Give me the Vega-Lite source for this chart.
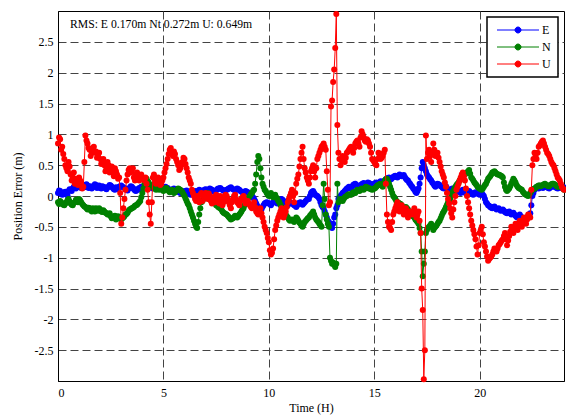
{
  "$schema": "https://vega.github.io/schema/vega-lite/v6.json",
  "width": 506,
  "height": 370,
  "autosize": "none",
  "padding": {"left": 58, "top": 11, "right": 2, "bottom": 36},
  "background": "#ffffff",
  "config": {
    "view": {"stroke": "#000000", "strokeWidth": 1},
    "axis": {
      "labelFont": "Liberation Serif", "labelFontSize": 12, "labelColor": "#000000",
      "titleFont": "Liberation Serif", "titleFontSize": 12, "titleFontWeight": "normal", "titleColor": "#000000",
      "domainColor": "#000000", "domainWidth": 1,
      "ticks": false,
      "gridColor": "#444444", "gridDash": [8, 4], "gridWidth": 1, "gridOpacity": 1
    }
  },
  "datasets": {
    "gps": [
      {"t":0.0,"E":0.05,"N":-0.1,"U":0.85},{"t":0.1,"E":0.08,"N":-0.08,"U":0.92},{"t":0.2,"E":0.02,"N":-0.12,"U":0.8},{"t":0.3,"E":0.06,"N":-0.15,"U":0.6},{"t":0.4,"E":0.03,"N":-0.1,"U":0.45},
      {"t":0.5,"E":0.08,"N":-0.05,"U":0.55},{"t":0.6,"E":0.1,"N":-0.12,"U":0.35},{"t":0.7,"E":0.12,"N":-0.15,"U":0.3},{"t":0.8,"E":0.15,"N":-0.1,"U":0.2},{"t":0.9,"E":0.14,"N":-0.08,"U":0.25},
      {"t":1.0,"E":0.16,"N":-0.05,"U":0.3},{"t":1.1,"E":0.13,"N":-0.1,"U":0.2},{"t":1.2,"E":0.18,"N":-0.15,"U":0.15},{"t":1.3,"E":0.15,"N":-0.18,"U":0.98},{"t":1.4,"E":0.17,"N":-0.22,"U":0.85},
      {"t":1.5,"E":0.14,"N":-0.2,"U":0.75},{"t":1.6,"E":0.12,"N":-0.25,"U":0.7},{"t":1.7,"E":0.16,"N":-0.22,"U":0.8},{"t":1.8,"E":0.18,"N":-0.2,"U":0.72},{"t":1.9,"E":0.15,"N":-0.24,"U":0.65},
      {"t":2.0,"E":0.13,"N":-0.22,"U":0.6},{"t":2.1,"E":0.16,"N":-0.26,"U":0.55},{"t":2.2,"E":0.14,"N":-0.25,"U":0.5},{"t":2.3,"E":0.11,"N":-0.28,"U":0.45},{"t":2.4,"E":0.15,"N":-0.3,"U":0.5},
      {"t":2.5,"E":0.17,"N":-0.33,"U":0.42},{"t":2.6,"E":0.13,"N":-0.35,"U":0.38},{"t":2.7,"E":0.1,"N":-0.32,"U":0.45},{"t":2.8,"E":0.12,"N":-0.36,"U":0.35},{"t":2.9,"E":0.15,"N":-0.34,"U":0.3},
      {"t":3.0,"E":0.17,"N":-0.38,"U":-0.45},{"t":3.1,"E":0.14,"N":-0.35,"U":-0.2},{"t":3.2,"E":0.12,"N":-0.3,"U":0.1},{"t":3.3,"E":0.09,"N":-0.27,"U":0.35},{"t":3.4,"E":0.13,"N":-0.22,"U":0.45},
      {"t":3.5,"E":0.15,"N":-0.2,"U":0.4},{"t":3.6,"E":0.11,"N":-0.18,"U":0.3},{"t":3.7,"E":0.08,"N":-0.15,"U":0.35},{"t":3.8,"E":0.1,"N":-0.12,"U":0.28},{"t":3.9,"E":0.12,"N":-0.08,"U":0.32},
      {"t":4.0,"E":0.14,"N":0.05,"U":0.3},{"t":4.1,"E":0.16,"N":0.2,"U":0.25},{"t":4.2,"E":0.15,"N":0.28,"U":0.2},{"t":4.3,"E":0.18,"N":0.22,"U":-0.1},{"t":4.4,"E":0.15,"N":0.15,"U":-0.45},
      {"t":4.5,"E":0.12,"N":0.18,"U":0.3},{"t":4.6,"E":0.15,"N":0.12,"U":0.25},{"t":4.7,"E":0.17,"N":0.15,"U":0.22},{"t":4.8,"E":0.14,"N":0.1,"U":0.28},{"t":4.9,"E":0.11,"N":0.13,"U":0.2},
      {"t":5.0,"E":0.12,"N":0.08,"U":0.3},{"t":5.1,"E":0.15,"N":0.12,"U":0.45},{"t":5.2,"E":0.13,"N":0.1,"U":0.6},{"t":5.3,"E":0.1,"N":0.06,"U":0.75},{"t":5.4,"E":0.08,"N":0.1,"U":0.7},
      {"t":5.5,"E":0.12,"N":0.05,"U":0.72},{"t":5.6,"E":0.1,"N":0.08,"U":0.6},{"t":5.7,"E":0.07,"N":0.12,"U":0.5},{"t":5.8,"E":0.05,"N":0.1,"U":0.45},{"t":5.9,"E":0.08,"N":0.06,"U":0.55},
      {"t":6.0,"E":0.06,"N":0.0,"U":0.6},{"t":6.1,"E":0.09,"N":-0.08,"U":0.45},{"t":6.2,"E":0.04,"N":-0.15,"U":0.3},{"t":6.3,"E":0.02,"N":-0.25,"U":0.2},{"t":6.4,"E":0.05,"N":-0.35,"U":0.05},
      {"t":6.5,"E":0.08,"N":-0.45,"U":-0.05},{"t":6.6,"E":0.06,"N":-0.52,"U":0.0},{"t":6.7,"E":0.1,"N":-0.3,"U":-0.1},{"t":6.8,"E":0.07,"N":-0.1,"U":0.05},{"t":6.9,"E":0.09,"N":-0.05,"U":0.0},
      {"t":7.0,"E":0.11,"N":0.0,"U":0.05},{"t":7.1,"E":0.08,"N":0.05,"U":-0.05},{"t":7.2,"E":0.12,"N":-0.02,"U":0.0},{"t":7.3,"E":0.1,"N":-0.06,"U":-0.12},{"t":7.4,"E":0.07,"N":-0.1,"U":-0.05},
      {"t":7.5,"E":0.09,"N":-0.15,"U":0.02},{"t":7.6,"E":0.12,"N":-0.18,"U":-0.08},{"t":7.7,"E":0.13,"N":-0.2,"U":0.0},{"t":7.8,"E":0.1,"N":-0.25,"U":-0.15},{"t":7.9,"E":0.08,"N":-0.28,"U":-0.05},
      {"t":8.0,"E":0.1,"N":-0.3,"U":0.0},{"t":8.1,"E":0.12,"N":-0.34,"U":-0.1},{"t":8.2,"E":0.14,"N":-0.38,"U":-0.2},{"t":8.3,"E":0.11,"N":-0.36,"U":-0.05},{"t":8.4,"E":0.09,"N":-0.32,"U":0.02},
      {"t":8.5,"E":0.12,"N":-0.35,"U":-0.1},{"t":8.6,"E":0.1,"N":-0.3,"U":-0.15},{"t":8.7,"E":0.07,"N":-0.25,"U":-0.05},{"t":8.8,"E":0.05,"N":-0.2,"U":0.0},{"t":8.9,"E":0.08,"N":-0.1,"U":-0.12},
      {"t":9.0,"E":0.06,"N":-0.05,"U":-0.08},{"t":9.1,"E":0.02,"N":0.0,"U":-0.15},{"t":9.2,"E":0.0,"N":0.05,"U":-0.2},{"t":9.3,"E":-0.05,"N":0.1,"U":-0.1},{"t":9.4,"E":-0.12,"N":0.35,"U":-0.25},
      {"t":9.5,"E":-0.2,"N":0.65,"U":-0.3},{"t":9.6,"E":-0.25,"N":0.45,"U":-0.2},{"t":9.7,"E":-0.18,"N":0.2,"U":-0.35},{"t":9.8,"E":-0.12,"N":0.1,"U":-0.5},{"t":9.9,"E":-0.1,"N":0.05,"U":-0.6},
      {"t":10.0,"E":-0.12,"N":0.0,"U":-0.75},{"t":10.1,"E":-0.15,"N":0.05,"U":-0.95},{"t":10.2,"E":-0.1,"N":-0.02,"U":-0.85},{"t":10.3,"E":-0.08,"N":0.02,"U":-0.55},{"t":10.4,"E":-0.12,"N":-0.05,"U":-0.4},
      {"t":10.5,"E":-0.1,"N":-0.1,"U":-0.3},{"t":10.6,"E":-0.05,"N":-0.18,"U":-0.2},{"t":10.7,"E":-0.08,"N":-0.25,"U":-0.35},{"t":10.8,"E":-0.12,"N":-0.3,"U":-0.25},{"t":10.9,"E":-0.15,"N":-0.35,"U":-0.1},
      {"t":11.0,"E":-0.1,"N":-0.4,"U":0.0},{"t":11.1,"E":-0.12,"N":-0.38,"U":0.1},{"t":11.2,"E":-0.15,"N":-0.42,"U":-0.1},{"t":11.3,"E":-0.18,"N":-0.35,"U":0.2},{"t":11.4,"E":-0.12,"N":-0.4,"U":0.35},
      {"t":11.5,"E":-0.1,"N":-0.45,"U":0.6},{"t":11.6,"E":-0.14,"N":-0.5,"U":0.8},{"t":11.7,"E":-0.1,"N":-0.42,"U":0.45},{"t":11.8,"E":-0.06,"N":-0.38,"U":0.3},{"t":11.9,"E":-0.05,"N":-0.35,"U":0.2},
      {"t":12.0,"E":0.05,"N":-0.3,"U":0.4},{"t":12.1,"E":0.08,"N":-0.25,"U":0.5},{"t":12.2,"E":0.02,"N":-0.35,"U":0.3},{"t":12.3,"E":0.0,"N":-0.4,"U":0.6},{"t":12.4,"E":-0.05,"N":-0.45,"U":0.7},
      {"t":12.5,"E":-0.15,"N":-0.5,"U":0.8},{"t":12.6,"E":-0.2,"N":0.2,"U":0.85},{"t":12.7,"E":-0.3,"N":-0.3,"U":0.75},{"t":12.8,"E":-0.4,"N":-0.45,"U":0.1},{"t":12.85,"E":-0.42,"N":-0.5,"U":-0.15},
      {"t":12.9,"E":-0.45,"N":-1.0,"U":-0.1},{"t":12.95,"E":-0.5,"N":-1.05,"U":1.45},{"t":13.0,"E":-0.52,"N":-1.1,"U":1.55},{"t":13.05,"E":-0.45,"N":-1.08,"U":1.85},{"t":13.1,"E":-0.35,"N":-1.12,"U":2.05},
      {"t":13.15,"E":-0.3,"N":-1.15,"U":2.4},{"t":13.2,"E":-0.2,"N":-1.1,"U":2.95},{"t":13.25,"E":-0.15,"N":0.2,"U":1.15},{"t":13.3,"E":-0.05,"N":-0.1,"U":0.7},{"t":13.4,"E":0.0,"N":-0.05,"U":0.5},
      {"t":13.5,"E":0.05,"N":-0.08,"U":0.65},{"t":13.6,"E":0.08,"N":-0.02,"U":0.55},{"t":13.7,"E":0.12,"N":0.0,"U":0.7},{"t":13.8,"E":0.15,"N":0.03,"U":0.75},{"t":13.9,"E":0.12,"N":0.02,"U":0.8},
      {"t":14.0,"E":0.18,"N":0.06,"U":0.7},{"t":14.1,"E":0.2,"N":0.05,"U":0.85},{"t":14.2,"E":0.17,"N":0.1,"U":0.9},{"t":14.3,"E":0.15,"N":0.08,"U":0.8},{"t":14.4,"E":0.19,"N":0.12,"U":1.05},
      {"t":14.5,"E":0.21,"N":0.1,"U":0.95},{"t":14.6,"E":0.18,"N":0.15,"U":0.88},{"t":14.7,"E":0.22,"N":0.13,"U":0.9},{"t":14.8,"E":0.2,"N":0.12,"U":0.8},{"t":14.9,"E":0.17,"N":0.1,"U":0.6},
      {"t":15.0,"E":0.2,"N":0.12,"U":0.55},{"t":15.1,"E":0.22,"N":0.15,"U":0.5},{"t":15.2,"E":0.19,"N":0.18,"U":0.7},{"t":15.3,"E":0.24,"N":0.2,"U":0.6},{"t":15.4,"E":0.21,"N":0.15,"U":0.65},
      {"t":15.5,"E":0.25,"N":0.25,"U":0.75},{"t":15.6,"E":0.28,"N":0.28,"U":-0.3},{"t":15.7,"E":0.3,"N":0.2,"U":-0.5},{"t":15.8,"E":0.27,"N":0.1,"U":-0.55},{"t":15.9,"E":0.31,"N":0.0,"U":-0.3},
      {"t":16.0,"E":0.33,"N":-0.05,"U":-0.2},{"t":16.1,"E":0.3,"N":-0.1,"U":-0.1},{"t":16.2,"E":0.35,"N":-0.12,"U":-0.25},{"t":16.3,"E":0.32,"N":-0.15,"U":-0.15},{"t":16.4,"E":0.34,"N":-0.2,"U":-0.3},
      {"t":16.5,"E":0.28,"N":-0.18,"U":-0.2},{"t":16.6,"E":0.25,"N":-0.22,"U":-0.35},{"t":16.7,"E":0.2,"N":-0.3,"U":-0.25},{"t":16.8,"E":0.15,"N":-0.32,"U":-0.3},{"t":16.9,"E":0.1,"N":-0.35,"U":-0.2},
      {"t":17.0,"E":0.05,"N":-0.4,"U":-0.35},{"t":17.1,"E":0.12,"N":-0.45,"U":-0.25},{"t":17.2,"E":0.3,"N":-0.6,"U":-0.6},{"t":17.25,"E":0.45,"N":-0.9,"U":-1.5},{"t":17.3,"E":0.55,"N":-1.3,"U":-1.85},
      {"t":17.35,"E":0.5,"N":-1.1,"U":-2.97},{"t":17.4,"E":0.45,"N":-0.9,"U":-2.5},{"t":17.45,"E":0.4,"N":-0.6,"U":0.98},{"t":17.5,"E":0.35,"N":-0.55,"U":0.6},{"t":17.6,"E":0.3,"N":-0.5,"U":0.75},
      {"t":17.7,"E":0.25,"N":-0.45,"U":0.55},{"t":17.8,"E":0.2,"N":-0.55,"U":0.85},{"t":17.9,"E":0.15,"N":-0.5,"U":0.65},
      {"t":18.0,"E":0.2,"N":-0.45,"U":0.7},{"t":18.1,"E":0.18,"N":-0.4,"U":0.55},{"t":18.2,"E":0.15,"N":-0.32,"U":0.4},{"t":18.3,"E":0.12,"N":-0.25,"U":0.3},{"t":18.4,"E":0.16,"N":-0.18,"U":0.15},
      {"t":18.5,"E":0.1,"N":-0.1,"U":-0.05},{"t":18.6,"E":0.08,"N":-0.05,"U":-0.2},{"t":18.7,"E":0.12,"N":0.05,"U":-0.35},{"t":18.8,"E":0.05,"N":0.12,"U":-0.1},{"t":18.9,"E":0.1,"N":0.18,"U":0.1},
      {"t":19.0,"E":0.08,"N":0.22,"U":0.2},{"t":19.1,"E":0.05,"N":0.28,"U":0.3},{"t":19.2,"E":0.1,"N":0.32,"U":0.38},{"t":19.3,"E":0.06,"N":0.35,"U":0.25},{"t":19.4,"E":0.03,"N":0.38,"U":0.0},
      {"t":19.5,"E":0.08,"N":0.42,"U":-0.2},{"t":19.6,"E":0.05,"N":0.3,"U":-0.4},{"t":19.7,"E":0.02,"N":0.25,"U":-0.55},{"t":19.8,"E":0.06,"N":0.2,"U":-0.7},{"t":19.9,"E":0.04,"N":0.15,"U":-0.95},
      {"t":20.0,"E":0.02,"N":0.12,"U":-0.6},{"t":20.1,"E":0.05,"N":0.1,"U":-0.5},{"t":20.2,"E":0.0,"N":0.15,"U":-0.75},{"t":20.3,"E":-0.1,"N":0.2,"U":-0.9},{"t":20.4,"E":-0.15,"N":0.28,"U":-1.05},
      {"t":20.5,"E":-0.18,"N":0.32,"U":-1.0},{"t":20.6,"E":-0.2,"N":0.38,"U":-0.95},{"t":20.7,"E":-0.17,"N":0.4,"U":-0.85},{"t":20.8,"E":-0.22,"N":0.36,"U":-0.9},{"t":20.9,"E":-0.2,"N":0.35,"U":-0.8},
      {"t":21.0,"E":-0.24,"N":0.33,"U":-0.75},{"t":21.1,"E":-0.22,"N":0.3,"U":-0.7},{"t":21.2,"E":-0.26,"N":0.15,"U":-0.6},{"t":21.3,"E":-0.28,"N":0.08,"U":-0.8},{"t":21.4,"E":-0.25,"N":0.12,"U":-0.65},
      {"t":21.5,"E":-0.3,"N":0.2,"U":-0.5},{"t":21.6,"E":-0.27,"N":0.28,"U":-0.6},{"t":21.7,"E":-0.32,"N":0.22,"U":-0.45},{"t":21.8,"E":-0.35,"N":0.15,"U":-0.55},{"t":21.9,"E":-0.3,"N":0.12,"U":-0.4},
      {"t":22.0,"E":-0.36,"N":0.1,"U":-0.5},{"t":22.1,"E":-0.4,"N":0.05,"U":-0.35},{"t":22.2,"E":-0.38,"N":0.02,"U":-0.45},{"t":22.3,"E":-0.33,"N":0.0,"U":-0.3},{"t":22.4,"E":-0.28,"N":0.05,"U":-0.35},
      {"t":22.5,"E":0.0,"N":0.1,"U":0.5},{"t":22.6,"E":0.1,"N":0.12,"U":0.7},{"t":22.7,"E":0.14,"N":0.15,"U":0.6},{"t":22.8,"E":0.12,"N":0.17,"U":0.8},{"t":22.9,"E":0.15,"N":0.16,"U":0.85},
      {"t":23.0,"E":0.13,"N":0.18,"U":0.9},{"t":23.1,"E":0.16,"N":0.2,"U":0.8},{"t":23.2,"E":0.14,"N":0.17,"U":0.7},{"t":23.3,"E":0.12,"N":0.16,"U":0.65},{"t":23.4,"E":0.15,"N":0.19,"U":0.55},
      {"t":23.5,"E":0.17,"N":0.2,"U":0.5},{"t":23.6,"E":0.14,"N":0.18,"U":0.4},{"t":23.7,"E":0.12,"N":0.15,"U":0.3},{"t":23.8,"E":0.15,"N":0.16,"U":0.25},{"t":23.9,"E":0.13,"N":0.14,"U":0.15},
      {"t":24.0,"E":0.14,"N":0.1,"U":0.1},
      {"t":0.05,"E":0.09,"N":-0.13,"U":0.95},{"t":0.15,"E":0.04,"N":-0.1,"U":0.75},{"t":0.25,"E":0.03,"N":-0.14,"U":0.68},{"t":0.35,"E":0.07,"N":-0.12,"U":0.5},{"t":0.45,"E":0.01,"N":-0.07,"U":0.4},
      {"t":0.55,"E":0.11,"N":-0.09,"U":0.48},{"t":0.65,"E":0.08,"N":-0.14,"U":0.25},{"t":0.75,"E":0.15,"N":-0.11,"U":0.38},{"t":0.85,"E":0.12,"N":-0.06,"U":0.28},{"t":0.95,"E":0.17,"N":-0.1,"U":0.18},
      {"t":1.05,"E":0.14,"N":-0.07,"U":0.25},{"t":1.15,"E":0.17,"N":-0.13,"U":0.12},{"t":1.25,"E":0.14,"N":-0.17,"U":0.55},{"t":1.35,"E":0.19,"N":-0.2,"U":0.9},{"t":1.45,"E":0.13,"N":-0.19,"U":0.78},
      {"t":1.55,"E":0.16,"N":-0.23,"U":0.65},{"t":1.65,"E":0.14,"N":-0.2,"U":0.78},{"t":1.75,"E":0.19,"N":-0.25,"U":0.7},{"t":1.85,"E":0.13,"N":-0.21,"U":0.62},{"t":1.95,"E":0.17,"N":-0.2,"U":0.7},
      {"t":2.05,"E":0.12,"N":-0.25,"U":0.52},{"t":2.15,"E":0.15,"N":-0.23,"U":0.6},{"t":2.25,"E":0.12,"N":-0.27,"U":0.4},{"t":2.35,"E":0.14,"N":-0.3,"U":0.55},{"t":2.45,"E":0.18,"N":-0.28,"U":0.38},
      {"t":2.55,"E":0.15,"N":-0.36,"U":0.48},{"t":2.65,"E":0.11,"N":-0.33,"U":0.32},{"t":2.75,"E":0.14,"N":-0.38,"U":0.4},{"t":2.85,"E":0.11,"N":-0.33,"U":0.28},{"t":2.95,"E":0.16,"N":-0.37,"U":0.05},
      {"t":3.05,"E":0.15,"N":-0.36,"U":-0.35},{"t":3.15,"E":0.13,"N":-0.33,"U":-0.05},{"t":3.25,"E":0.1,"N":-0.29,"U":0.25},{"t":3.35,"E":0.12,"N":-0.24,"U":0.42},{"t":3.45,"E":0.16,"N":-0.21,"U":0.38},
      {"t":3.55,"E":0.13,"N":-0.19,"U":0.45},{"t":3.65,"E":0.09,"N":-0.16,"U":0.25},{"t":3.75,"E":0.11,"N":-0.14,"U":0.38},{"t":3.85,"E":0.13,"N":-0.1,"U":0.25},{"t":3.95,"E":0.15,"N":-0.02,"U":0.35},
      {"t":4.05,"E":0.13,"N":0.12,"U":0.28},{"t":4.15,"E":0.17,"N":0.25,"U":0.3},{"t":4.25,"E":0.16,"N":0.24,"U":0.1},{"t":4.35,"E":0.16,"N":0.18,"U":-0.3},{"t":4.45,"E":0.13,"N":0.16,"U":-0.1},
      {"t":4.55,"E":0.14,"N":0.15,"U":0.35},{"t":4.65,"E":0.16,"N":0.1,"U":0.2},{"t":4.75,"E":0.15,"N":0.14,"U":0.3},{"t":4.85,"E":0.12,"N":0.12,"U":0.18},{"t":4.95,"E":0.14,"N":0.1,"U":0.25},
      {"t":5.05,"E":0.13,"N":0.1,"U":0.38},{"t":5.15,"E":0.12,"N":0.13,"U":0.52},{"t":5.25,"E":0.11,"N":0.08,"U":0.68},{"t":5.35,"E":0.09,"N":0.08,"U":0.78},{"t":5.45,"E":0.11,"N":0.07,"U":0.65},
      {"t":5.55,"E":0.09,"N":0.06,"U":0.68},{"t":5.65,"E":0.08,"N":0.1,"U":0.55},{"t":5.75,"E":0.06,"N":0.11,"U":0.42},{"t":5.85,"E":0.07,"N":0.08,"U":0.5},{"t":5.95,"E":0.05,"N":0.03,"U":0.62},
      {"t":6.05,"E":0.08,"N":-0.04,"U":0.52},{"t":6.15,"E":0.06,"N":-0.12,"U":0.38},{"t":6.25,"E":0.03,"N":-0.2,"U":0.25},{"t":6.35,"E":0.04,"N":-0.3,"U":0.1},{"t":6.45,"E":0.07,"N":-0.4,"U":0.0},
      {"t":6.55,"E":0.07,"N":-0.5,"U":-0.08},{"t":6.65,"E":0.08,"N":-0.42,"U":-0.05},{"t":6.75,"E":0.09,"N":-0.2,"U":0.02},{"t":6.85,"E":0.08,"N":-0.08,"U":-0.08},{"t":6.95,"E":0.1,"N":-0.02,"U":0.03},
      {"t":7.05,"E":0.1,"N":0.03,"U":-0.02},{"t":7.15,"E":0.1,"N":0.02,"U":0.04},{"t":7.25,"E":0.11,"N":-0.04,"U":-0.08},{"t":7.35,"E":0.08,"N":-0.08,"U":-0.02},{"t":7.45,"E":0.08,"N":-0.12,"U":-0.1},
      {"t":7.55,"E":0.11,"N":-0.16,"U":0.0},{"t":7.65,"E":0.12,"N":-0.19,"U":-0.12},{"t":7.75,"E":0.11,"N":-0.22,"U":-0.05},{"t":7.85,"E":0.09,"N":-0.27,"U":-0.1},{"t":7.95,"E":0.09,"N":-0.29,"U":0.02},
      {"t":8.05,"E":0.11,"N":-0.32,"U":-0.05},{"t":8.15,"E":0.13,"N":-0.36,"U":-0.15},{"t":8.25,"E":0.12,"N":-0.37,"U":-0.1},{"t":8.35,"E":0.1,"N":-0.34,"U":0.0},{"t":8.45,"E":0.1,"N":-0.33,"U":-0.05},
      {"t":8.55,"E":0.11,"N":-0.33,"U":-0.12},{"t":8.65,"E":0.08,"N":-0.28,"U":-0.08},{"t":8.75,"E":0.06,"N":-0.22,"U":-0.02},{"t":8.85,"E":0.07,"N":-0.15,"U":-0.06},{"t":8.95,"E":0.07,"N":-0.08,"U":-0.1},
      {"t":9.05,"E":0.04,"N":-0.02,"U":-0.12},{"t":9.15,"E":0.01,"N":0.03,"U":-0.18},{"t":9.25,"E":-0.02,"N":0.08,"U":-0.15},{"t":9.35,"E":-0.08,"N":0.2,"U":-0.18},{"t":9.45,"E":-0.16,"N":0.55,"U":-0.28},
      {"t":9.55,"E":-0.23,"N":0.6,"U":-0.25},{"t":9.65,"E":-0.22,"N":0.3,"U":-0.28},{"t":9.75,"E":-0.15,"N":0.15,"U":-0.42},{"t":9.85,"E":-0.11,"N":0.08,"U":-0.55},{"t":9.95,"E":-0.11,"N":0.02,"U":-0.68},
      {"t":10.05,"E":-0.13,"N":0.03,"U":-0.88},{"t":10.15,"E":-0.12,"N":0.0,"U":-0.92},{"t":10.25,"E":-0.09,"N":0.0,"U":-0.7},{"t":10.35,"E":-0.1,"N":-0.02,"U":-0.48},{"t":10.45,"E":-0.11,"N":-0.08,"U":-0.35},
      {"t":10.55,"E":-0.07,"N":-0.14,"U":-0.25},{"t":10.65,"E":-0.06,"N":-0.22,"U":-0.28},{"t":10.75,"E":-0.1,"N":-0.28,"U":-0.3},{"t":10.85,"E":-0.13,"N":-0.33,"U":-0.18},{"t":10.95,"E":-0.12,"N":-0.38,"U":-0.05},
      {"t":11.05,"E":-0.11,"N":-0.39,"U":0.05},{"t":11.15,"E":-0.13,"N":-0.4,"U":0.0},{"t":11.25,"E":-0.16,"N":-0.38,"U":0.05},{"t":11.35,"E":-0.15,"N":-0.37,"U":0.28},{"t":11.45,"E":-0.11,"N":-0.43,"U":0.48},
      {"t":11.55,"E":-0.12,"N":-0.48,"U":0.7},{"t":11.65,"E":-0.12,"N":-0.46,"U":0.6},{"t":11.75,"E":-0.08,"N":-0.4,"U":0.38},{"t":11.85,"E":-0.05,"N":-0.36,"U":0.25},{"t":11.95,"E":0.0,"N":-0.32,"U":0.3},
      {"t":12.05,"E":0.07,"N":-0.28,"U":0.45},{"t":12.15,"E":0.05,"N":-0.3,"U":0.4},{"t":12.25,"E":0.01,"N":-0.38,"U":0.45},{"t":12.35,"E":-0.02,"N":-0.42,"U":0.65},{"t":12.45,"E":-0.1,"N":-0.48,"U":0.75},
      {"t":12.55,"E":-0.18,"N":-0.15,"U":0.82},{"t":12.65,"E":-0.25,"N":-0.05,"U":0.8},{"t":12.75,"E":-0.35,"N":-0.38,"U":0.4},
      {"t":13.35,"E":-0.02,"N":-0.08,"U":0.6},{"t":13.45,"E":0.02,"N":-0.06,"U":0.58},{"t":13.55,"E":0.06,"N":-0.05,"U":0.6},{"t":13.65,"E":0.1,"N":-0.01,"U":0.62},{"t":13.75,"E":0.13,"N":0.02,"U":0.72},
      {"t":13.85,"E":0.14,"N":0.02,"U":0.78},{"t":13.95,"E":0.15,"N":0.04,"U":0.75},{"t":14.05,"E":0.19,"N":0.05,"U":0.78},{"t":14.15,"E":0.18,"N":0.08,"U":0.88},{"t":14.25,"E":0.16,"N":0.09,"U":0.85},
      {"t":14.35,"E":0.17,"N":0.1,"U":0.95},{"t":14.45,"E":0.2,"N":0.11,"U":1.0},{"t":14.55,"E":0.2,"N":0.12,"U":0.9},{"t":14.65,"E":0.2,"N":0.14,"U":0.92},{"t":14.75,"E":0.21,"N":0.12,"U":0.85},
      {"t":14.85,"E":0.18,"N":0.11,"U":0.7},{"t":14.95,"E":0.19,"N":0.11,"U":0.58},{"t":15.05,"E":0.21,"N":0.13,"U":0.52},{"t":15.15,"E":0.2,"N":0.17,"U":0.6},{"t":15.25,"E":0.22,"N":0.19,"U":0.65},
      {"t":15.35,"E":0.23,"N":0.17,"U":0.62},{"t":15.45,"E":0.23,"N":0.2,"U":0.7},{"t":15.55,"E":0.27,"N":0.27,"U":0.2},{"t":15.65,"E":0.29,"N":0.24,"U":-0.42},{"t":15.75,"E":0.28,"N":0.15,"U":-0.52},
      {"t":15.85,"E":0.29,"N":0.05,"U":-0.42},{"t":15.95,"E":0.32,"N":-0.02,"U":-0.25},{"t":16.05,"E":0.31,"N":-0.08,"U":-0.15},{"t":16.15,"E":0.33,"N":-0.11,"U":-0.18},{"t":16.25,"E":0.33,"N":-0.13,"U":-0.2},
      {"t":16.35,"E":0.33,"N":-0.18,"U":-0.22},{"t":16.45,"E":0.31,"N":-0.19,"U":-0.25},{"t":16.55,"E":0.26,"N":-0.2,"U":-0.28},{"t":16.65,"E":0.22,"N":-0.26,"U":-0.3},{"t":16.75,"E":0.17,"N":-0.31,"U":-0.28},
      {"t":16.85,"E":0.12,"N":-0.33,"U":-0.25},{"t":16.95,"E":0.07,"N":-0.38,"U":-0.28},{"t":17.05,"E":0.08,"N":-0.42,"U":-0.3},{"t":17.15,"E":0.2,"N":-0.52,"U":-0.4},
      {"t":17.55,"E":0.32,"N":-0.52,"U":0.7},{"t":17.65,"E":0.27,"N":-0.48,"U":0.65},{"t":17.75,"E":0.22,"N":-0.5,"U":0.7},{"t":17.85,"E":0.17,"N":-0.52,"U":0.75},{"t":17.95,"E":0.18,"N":-0.48,"U":0.68},
      {"t":18.05,"E":0.19,"N":-0.42,"U":0.62},{"t":18.15,"E":0.16,"N":-0.36,"U":0.48},{"t":18.25,"E":0.13,"N":-0.28,"U":0.35},{"t":18.35,"E":0.14,"N":-0.22,"U":0.22},{"t":18.45,"E":0.13,"N":-0.14,"U":0.05},
      {"t":18.55,"E":0.09,"N":-0.08,"U":-0.12},{"t":18.65,"E":0.1,"N":0.0,"U":-0.28},{"t":18.75,"E":0.08,"N":0.08,"U":-0.22},{"t":18.85,"E":0.08,"N":0.15,"U":0.0},{"t":18.95,"E":0.09,"N":0.2,"U":0.15},
      {"t":19.05,"E":0.06,"N":0.25,"U":0.25},{"t":19.15,"E":0.08,"N":0.3,"U":0.35},{"t":19.25,"E":0.08,"N":0.34,"U":0.32},{"t":19.35,"E":0.04,"N":0.37,"U":0.12},{"t":19.45,"E":0.06,"N":0.4,"U":-0.1},
      {"t":19.55,"E":0.06,"N":0.36,"U":-0.3},{"t":19.65,"E":0.03,"N":0.28,"U":-0.48},{"t":19.75,"E":0.04,"N":0.22,"U":-0.62},{"t":19.85,"E":0.05,"N":0.18,"U":-0.82},{"t":19.95,"E":0.03,"N":0.13,"U":-0.8},
      {"t":20.05,"E":0.03,"N":0.11,"U":-0.55},{"t":20.15,"E":0.02,"N":0.12,"U":-0.62},{"t":20.25,"E":-0.05,"N":0.18,"U":-0.82},{"t":20.35,"E":-0.12,"N":0.24,"U":-0.98},{"t":20.45,"E":-0.16,"N":0.3,"U":-1.02},
      {"t":20.55,"E":-0.19,"N":0.35,"U":-0.98},{"t":20.65,"E":-0.18,"N":0.39,"U":-0.9},{"t":20.75,"E":-0.2,"N":0.38,"U":-0.88},{"t":20.85,"E":-0.21,"N":0.35,"U":-0.85},{"t":20.95,"E":-0.22,"N":0.34,"U":-0.78},
      {"t":21.05,"E":-0.23,"N":0.32,"U":-0.72},{"t":21.15,"E":-0.24,"N":0.22,"U":-0.65},{"t":21.25,"E":-0.27,"N":0.1,"U":-0.7},{"t":21.35,"E":-0.26,"N":0.1,"U":-0.72},{"t":21.45,"E":-0.28,"N":0.16,"U":-0.58},
      {"t":21.55,"E":-0.28,"N":0.24,"U":-0.55},{"t":21.65,"E":-0.3,"N":0.25,"U":-0.52},{"t":21.75,"E":-0.34,"N":0.18,"U":-0.5},{"t":21.85,"E":-0.32,"N":0.13,"U":-0.48},{"t":21.95,"E":-0.33,"N":0.11,"U":-0.45},
      {"t":22.05,"E":-0.38,"N":0.07,"U":-0.42},{"t":22.15,"E":-0.39,"N":0.03,"U":-0.4},{"t":22.25,"E":-0.35,"N":0.01,"U":-0.38},{"t":22.35,"E":-0.3,"N":0.03,"U":-0.32},{"t":22.45,"E":-0.15,"N":0.08,"U":0.1},
      {"t":22.55,"E":0.05,"N":0.11,"U":0.6},{"t":22.65,"E":0.12,"N":0.13,"U":0.65},{"t":22.75,"E":0.13,"N":0.16,"U":0.7},{"t":22.85,"E":0.14,"N":0.17,"U":0.82},{"t":22.95,"E":0.14,"N":0.17,"U":0.88},
      {"t":23.05,"E":0.15,"N":0.19,"U":0.85},{"t":23.15,"E":0.15,"N":0.18,"U":0.75},{"t":23.25,"E":0.13,"N":0.16,"U":0.68},{"t":23.35,"E":0.14,"N":0.18,"U":0.6},{"t":23.45,"E":0.16,"N":0.2,"U":0.52},
      {"t":23.55,"E":0.15,"N":0.19,"U":0.45},{"t":23.65,"E":0.13,"N":0.16,"U":0.35},{"t":23.75,"E":0.14,"N":0.15,"U":0.28},{"t":23.85,"E":0.14,"N":0.15,"U":0.2},{"t":23.95,"E":0.13,"N":0.12,"U":0.12}
    ],
    "note": [{"t": 0.57, "v": 2.79, "label": "RMS: E 0.170m Nt 0.272m U: 0.649m"}]
  },
  "encoding": {
    "x": {
      "field": "t", "type": "quantitative", "title": "Time (H)",
      "scale": {"domain": [0, 24], "nice": false, "zero": false},
      "axis": {"values": [0, 5, 10, 15, 20], "grid": true, "labelPadding": 6, "titlePadding": 4, "labelExpr": "'' + datum.value"}
    },
    "y": {
      "field": "v", "type": "quantitative", "title": "Position Error (m)",
      "scale": {"domain": [-3, 3], "nice": false, "zero": false},
      "axis": {"values": [-2.5, -2, -1.5, -1, -0.5, 0, 0.5, 1, 1.5, 2, 2.5], "grid": true, "labelPadding": 5, "titlePadding": 10, "labelExpr": "'' + datum.value"}
    }
  },
  "layer": [
    {
      "data": {"name": "gps"},
      "transform": [{"fold": ["E"], "as": ["key", "v"]}],
      "mark": {"type": "line", "strokeWidth": 1, "point": {"filled": true, "size": 36, "opacity": 1}},
      "encoding": {
        "color": {
          "field": "key", "type": "nominal",
          "scale": {"domain": ["E", "N", "U"], "range": ["#0000ff", "#008000", "#ff0000"]},
          "legend": {
            "title": null, "orient": "top-right", "offset": 6,
            "strokeColor": "#000000", "fillColor": "#ffffff", "padding": 7, "cornerRadius": 0,
            "labelFont": "Liberation Serif", "labelFontSize": 12, "labelColor": "#000000",
            "symbolType": "M-0.6,0H7.8M4.2,0A0.6,0.6,0,1,1,3,0A0.6,0.6,0,1,1,4.2,0Z",
            "symbolSize": 100, "symbolStrokeWidth": 1, "labelOffset": 36, "rowPadding": 5,
            "encode": {"legend": {"update": {"strokeWidth": {"value": 1.5}}}}
          }
        }
      }
    },
    {
      "data": {"name": "gps"},
      "transform": [{"fold": ["N"], "as": ["key", "v"]}],
      "mark": {"type": "line", "strokeWidth": 1, "point": {"filled": true, "size": 36, "opacity": 1}},
      "encoding": {
        "color": {
          "field": "key", "type": "nominal",
          "scale": {"domain": ["E", "N", "U"], "range": ["#0000ff", "#008000", "#ff0000"]}
        }
      }
    },
    {
      "data": {"name": "gps"},
      "transform": [{"fold": ["U"], "as": ["key", "v"]}],
      "mark": {"type": "line", "strokeWidth": 1, "point": {"filled": true, "size": 36, "opacity": 1}},
      "encoding": {
        "color": {
          "field": "key", "type": "nominal",
          "scale": {"domain": ["E", "N", "U"], "range": ["#0000ff", "#008000", "#ff0000"]}
        }
      }
    },
    {
      "data": {"name": "note"},
      "mark": {"type": "text", "align": "left", "baseline": "middle", "font": "Liberation Serif", "fontSize": 11.7, "color": "#000000"},
      "encoding": {"text": {"field": "label"}}
    }
  ]
}
